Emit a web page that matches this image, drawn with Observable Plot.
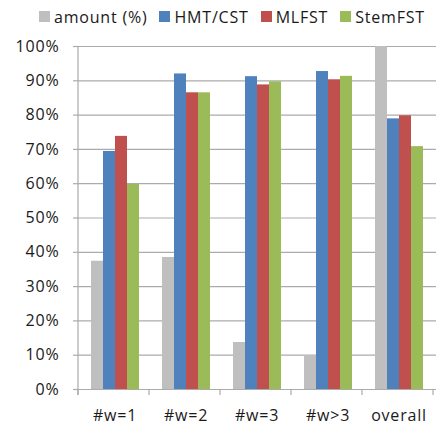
<!DOCTYPE html>
<html>
<head>
<meta charset="utf-8">
<script src="https://cdn.jsdelivr.net/npm/d3@7"></script>
<script src="https://cdn.jsdelivr.net/npm/@observablehq/plot@0.6"></script>
<style>
  html, body { margin: 0; padding: 0; background: #fff; }
  #wrap { position: relative; width: 436px; height: 425px; overflow: hidden; background: #fff; }
  #legend { position: absolute; left: 39px; top: 0px; width: 420px; }
  #chart { position: absolute; left: 0; top: 0; }
  #legend, #legend * { font-family: "Open Sans", sans-serif !important; font-size: 16px !important; letter-spacing: 0.8px; color: #1a1a1a !important; }
  #legend > div { margin: 0 !important; min-height: 33px !important; display: flex !important; flex-wrap: nowrap !important; align-items: center !important; white-space: nowrap !important; }
  #legend span { margin-right: 12px !important; display: inline-flex !important; align-items: center !important; white-space: nowrap !important; }
  #legend span > svg { margin-right: 4px !important; }
</style>
</head>
<body>
<div id="wrap"><div id="chart"></div><div id="legend"></div></div>
<script>
const categories = ["#w=1", "#w=2", "#w=3", "#w>3", "overall"];
const series = ["amount (%)", "HMT/CST", "MLFST", "StemFST"];
const amount  = [37.4, 38.5, 13.7, 9.9, 100];
const hmtCst  = [69.4, 92.0, 91.2, 92.7, 78.9];
const mlfst   = [73.8, 86.5, 88.8, 90.3, 79.8];
const stemFst = [59.8, 86.5, 89.7, 91.3, 70.8];
const colors = ["#BFBFBF", "#4F81BD", "#C0504D", "#9BBB59"];
const yTicks = [0, 10, 20, 30, 40, 50, 60, 70, 80, 90, 100];

const valuesBySeries = [amount, hmtCst, mlfst, stemFst];
const data = [];
categories.forEach((c, i) => {
  series.forEach((s, j) => data.push({cat: c, series: s, value: valuesBySeries[j][i]}));
});

const W = 436, H = 425, mL = 78, mR = 0, mT = 46, mB = 36;
const padIn = 0.28, padOut = 0.14;
const gridColor = "#ababab";

// the y axis is drawn in the first facet; shift it back to the left edge of the facet range
const bandProbe = d3.scaleBand().domain(categories).range([mL, W - mR]).paddingInner(padIn).paddingOuter(padOut);
const facetShift = bandProbe(categories[0]) - mL;

const plot = Plot.plot({
  width: W, height: H,
  marginTop: mT, marginBottom: mB, marginLeft: mL, marginRight: mR,
  style: {fontFamily: "'Open Sans', sans-serif", fontSize: "15px", color: "#1a1a1a", background: "white", letterSpacing: "0.8px"},
  fx: {domain: categories, paddingInner: padIn, paddingOuter: padOut, label: null},
  x: {domain: series, axis: null, padding: 0},
  y: {domain: [0, 100], label: null},
  color: {domain: series, range: colors},
  marks: [
    Plot.axisY(yTicks, {anchor: "left", dx: -facetShift, tickSize: -(W - mL - mR), text: null, stroke: gridColor, strokeOpacity: 1, strokeWidth: 1.2, label: null}),
    Plot.axisY(yTicks, {anchor: "left", dx: -facetShift, tickSize: 6, text: null, stroke: gridColor, strokeOpacity: 1, strokeWidth: 1.2, label: null}),
    Plot.axisY(yTicks, {anchor: "left", dx: -facetShift, tickSize: 0, tickPadding: 20, tickFormat: d => d + "%", fill: "#1a1a1a", fontSize: 16, label: null}),
    Plot.barY(data, {fx: "cat", x: "series", y: "value", fill: "series"}),
    Plot.axisFx({anchor: "bottom", tickSize: 0, tickPadding: 20, label: null, fill: "#1a1a1a", fontSize: 16})
  ]
});

// axis line and category boundary ticks, positioned from the plot's own scales
const fx = plot.scale("fx");
const y = plot.scale("y");
const svg = d3.select(plot);
const g = svg.append("g").attr("stroke", gridColor).attr("stroke-width", 1.2);
g.append("line")
  .attr("x1", fx.range[0]).attr("x2", fx.range[0])
  .attr("y1", y.apply(100)).attr("y2", y.apply(0) + 6);
d3.range(categories.length + 1).forEach(i => {
  const xx = fx.range[0] + i * fx.step;
  g.append("line").attr("x1", xx).attr("x2", xx).attr("y1", y.apply(0)).attr("y2", y.apply(0) + 6);
});

document.getElementById("chart").appendChild(plot);

const legend = Plot.legend({
  color: {domain: series, range: colors},
  legend: "swatches",
  swatchSize: 11,
  className: "lg"
});
document.getElementById("legend").appendChild(legend);
</script>
</body>
</html>
